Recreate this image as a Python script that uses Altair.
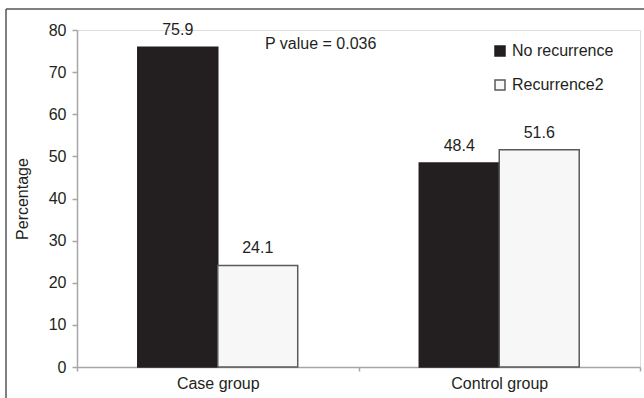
import altair as alt
import pandas as pd

groups = ["Case group", "Case group", "Control group", "Control group"]
series = ["No recurrence", "Recurrence2", "No recurrence", "Recurrence2"]
values = [75.9, 24.1, 48.4, 51.6]
value_labels = ["75.9", "24.1", "48.4", "51.6"]
group_order = ["Case group", "Control group"]
series_order = ["No recurrence", "Recurrence2"]
y_ticks = [0, 10, 20, 30, 40, 50, 60, 70, 80]
annotation = ["P value = 0.036"]

df = pd.DataFrame({"group": groups, "series": series, "value": values, "label": value_labels})

W, H = 563, 337
FONT = "Liberation Sans"
TXT = "#231f20"
AX = "#a6a6a6"

x_enc = alt.X(
    "group:N", sort=group_order,
    scale=alt.Scale(paddingInner=0, paddingOuter=0),
    axis=alt.Axis(title=None, tickBand="extent", labelAngle=0, labelFontSize=16,
                  labelColor=TXT, labelFont=FONT, labelPadding=4, tickSize=4,
                  domainColor=AX, tickColor=AX, domainWidth=1.5, tickWidth=1.5),
)
xoff = alt.XOffset("series:N", sort=series_order,
                   scale=alt.Scale(paddingOuter=0.76, paddingInner=0))
y_enc = alt.Y(
    "value:Q", scale=alt.Scale(domain=[0, 80], nice=False),
    axis=alt.Axis(values=y_ticks, title="Percentage", grid=False, tickSize=5,
                  labelPadding=6, labelFontSize=16, labelColor=TXT, labelFont=FONT,
                  domainColor=AX, tickColor=AX, domainWidth=1.5, tickWidth=1.5,
                  titleFontSize=16, titleFontWeight="normal", titleColor=TXT,
                  titleFont=FONT, titlePadding=18),
)

leg = alt.Legend(title=None, orient="none", legendX=415, legendY=13, padding=0,
                 symbolType="square", symbolSize=100, symbolStrokeWidth=1.5,
                 labelFontSize=16, labelFont=FONT, labelColor=TXT, labelOffset=4,
                 rowPadding=18)

bars = alt.Chart(df).mark_bar(strokeWidth=1.5).encode(
    x=x_enc, xOffset=xoff, y=y_enc,
    fill=alt.Fill("series:N", sort=series_order,
                  scale=alt.Scale(domain=series_order, range=["#231f20", "#f7f7f7"]),
                  legend=leg),
    stroke=alt.Stroke("series:N", sort=series_order,
                      scale=alt.Scale(domain=series_order, range=["#231f20", "#5a5a5a"]),
                      legend=leg),
)

texts = alt.Chart(df).mark_text(dy=-12, baseline="alphabetic", fontSize=16,
                                font=FONT, color=TXT).encode(
    x=alt.X("group:N", sort=group_order), xOffset=alt.XOffset("series:N", sort=series_order),
    y="value:Q", text="label:N",
)

ann = alt.Chart(pd.DataFrame({"t": annotation})).mark_text(
    align="left", baseline="middle", fontSize=16, font=FONT, color=TXT
).encode(x=alt.value(188), y=alt.value(14), text="t:N")

one = pd.DataFrame({"a": [0]})
frame_top = alt.Chart(one).mark_rule(color="#555555", strokeWidth=1.5).encode(
    x=alt.value(-71), x2=alt.value(W + 10), y=alt.value(-21))
frame_left = alt.Chart(one).mark_rule(color="#555555", strokeWidth=1.5).encode(
    x=alt.value(-71), y=alt.value(-21), y2=alt.value(H + 40))

chart = alt.layer(frame_top, frame_left, bars, texts, ann).properties(
    width=W, height=H,
    autosize=alt.AutoSizeParams(type="none"),
    padding={"left": 77, "top": 30, "right": 4, "bottom": 31},
).configure_view(stroke=None).configure(background="white")

chart.save("out.html", embed_options={"renderer": "svg", "actions": False})
